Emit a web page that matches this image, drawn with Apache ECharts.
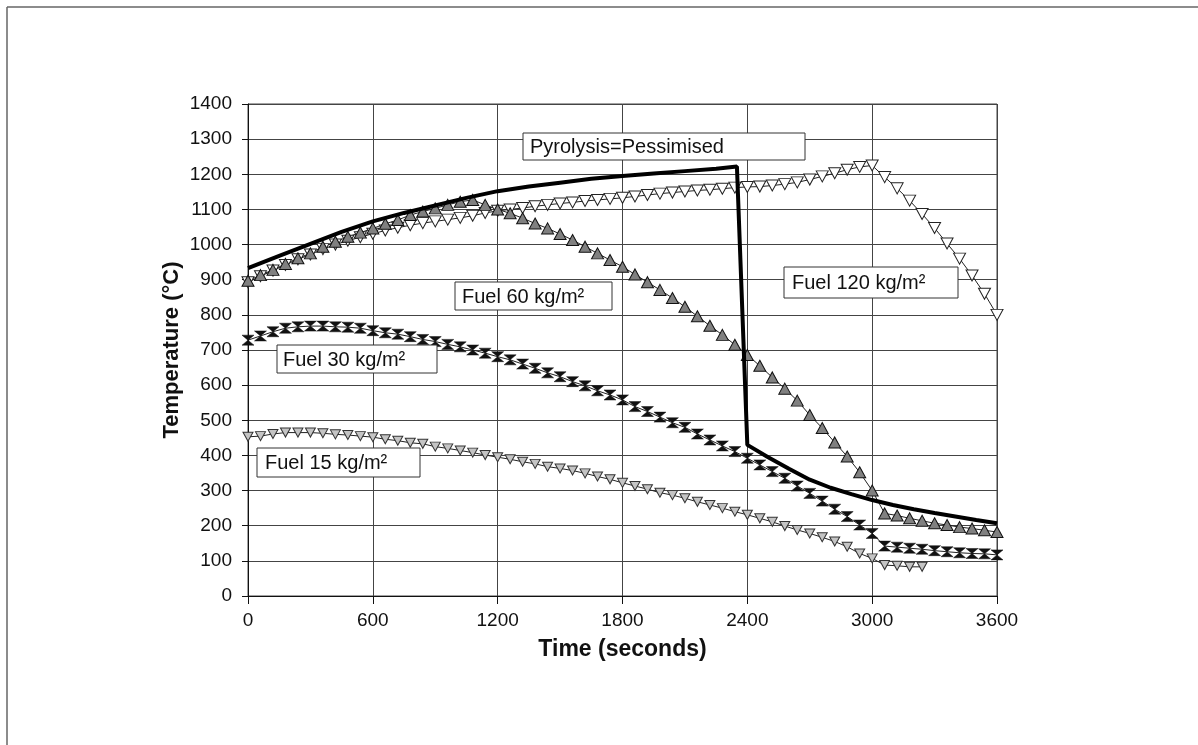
<!DOCTYPE html>
<html>
<head>
<meta charset="utf-8">
<script src="https://cdn.jsdelivr.net/npm/echarts@6/dist/echarts.min.js"></script>
<style>
html,body{margin:0;padding:0;background:#fff;}
#chart{width:1198px;height:745px;}
</style>
</head>
<body>
<div id="chart"></div>
<script>
// ---- Data ----
const times = [0,60,120,180,240,300,360,420,480,540,600,660,720,780,840,900,960,1020,1080,1140,
  1200,1260,1320,1380,1440,1500,1560,1620,1680,1740,1800,1860,1920,1980,2040,2100,2160,2220,2280,2340,
  2400,2460,2520,2580,2640,2700,2760,2820,2880,2940,3000,3060,3120,3180,3240,3300,3360,3420,3480,3540,3600];

const fuel15 = [453,455,461,465,465,465,463,460,458,455,452,446,442,436,433,425,420,414,408,401,
  395,389,382,376,368,363,357,349,340,332,322,313,304,294,287,278,268,259,250,240,
  231,221,211,199,188,178,167,155,140,121,107,88,86,83,83];

const fuel30 = [728,740,752,762,766,768,768,766,765,762,755,749,745,738,730,724,716,709,700,691,
  681,672,660,648,635,624,610,598,584,572,558,539,525,509,493,480,461,444,427,411,
  392,373,354,335,313,292,270,247,226,202,178,142,139,136,133,129,126,123,121,120,117];

const fuel60 = [897,913,928,945,961,975,994,1008,1022,1034,1046,1059,1070,1084,1094,1103,1113,1122,1127,1113,
  1100,1089,1075,1060,1046,1030,1013,994,975,956,937,915,893,871,848,823,796,769,743,715,
  686,655,622,590,556,515,478,437,397,352,300,235,229,221,214,207,202,196,192,187,182];

const fuel120 = [893,910,926,942,958,972,987,1000,1011,1021,1031,1040,1048,1055,1061,1066,1071,1076,1082,1090,
  1096,1100,1104,1109,1113,1117,1120,1124,1127,1130,1133,1137,1141,1145,1148,1151,1154,1156,1159,1162,
  1164,1165,1168,1172,1177,1185,1194,1203,1213,1221,1225,1192,1160,1125,1087,1047,1003,960,912,860,800];

const pyroTimes = [0,150,300,450,600,750,900,1050,1200,1350,1500,1650,1800,1950,2100,2250,2350,
  2400,2500,2600,2700,2800,2900,3000,3100,3200,3300,3400,3500,3600];
const pyroTemps = [933,968,1002,1036,1066,1090,1111,1133,1152,1165,1176,1187,1195,1202,1209,1216,1222,
  430,395,362,331,308,290,273,259,247,236,226,216,207];

const xTicks = [0,600,1200,1800,2400,3000,3600];
const yTicks = [0,100,200,300,400,500,600,700,800,900,1000,1100,1200,1300,1400];

const seriesNames = ['Fuel 15 kg/m²','Fuel 30 kg/m²','Fuel 60 kg/m²','Fuel 120 kg/m²','Pyrolysis=Pessimised'];

function pairs(xs, ys){ return ys.map((v,i)=>[xs[i], v]); }

const FONT = "'Liberation Sans', Arial, sans-serif";
const chart = echarts.init(document.getElementById('chart'), null, {renderer:'canvas'});

const hourglass = 'path://M0,0L10,0L5,5L10,10L0,10L5,5Z';

function labelBox(text, x, y, w, h, tx){
  return {
    type:'group', z:100,
    children:[
      {type:'rect', z:100, shape:{x:x, y:y, width:w, height:h}, style:{fill:'#fff', stroke:'#333', lineWidth:1}},
      {type:'text', z:101, x:tx, y:y+h/2+1, style:{text:text, fill:'#111', font:'20px '+FONT, verticalAlign:'middle', align:'left'}}
    ]
  };
}

const option = {
  animation:false,
  backgroundColor:'#fff',
  textStyle:{fontFamily:FONT},
  grid:{left:248, top:104, right:201, bottom:149, show:true, borderColor:'#444', borderWidth:1, backgroundColor:'transparent'},
  xAxis:{
    type:'value', min:xTicks[0], max:xTicks[xTicks.length-1], interval:600,
    name:'Time (seconds)', nameLocation:'middle', nameGap:42,
    nameTextStyle:{fontSize:23, fontWeight:'bold', color:'#111', fontFamily:FONT},
    axisLine:{show:true, lineStyle:{color:'#111', width:1}},
    axisTick:{show:true, length:8, lineStyle:{color:'#111'}},
    axisLabel:{fontSize:19, color:'#111', margin:15, fontFamily:FONT, formatter:(v)=>String(v)},
    splitLine:{show:true, lineStyle:{color:'#444', width:1}}
  },
  yAxis:{
    type:'value', min:yTicks[0], max:yTicks[yTicks.length-1], interval:100,
    name:'Temperature (°C)', nameLocation:'middle', nameGap:65, nameRotate:90, nameMoveOverlap:false,
    nameTextStyle:{fontSize:22, fontWeight:'bold', color:'#111', fontFamily:FONT},
    axisLine:{show:true, lineStyle:{color:'#111', width:1}},
    axisTick:{show:true, length:6, lineStyle:{color:'#111'}},
    axisLabel:{fontSize:19, color:'#111', margin:16, fontFamily:FONT, formatter:(v)=>String(v)},
    splitLine:{show:true, lineStyle:{color:'#444', width:1}}
  },
  series:[
    {
      name:seriesNames[0], type:'line', data:pairs(times, fuel15),
      symbol:'triangle', symbolRotate:180, symbolSize:[10,9], showSymbol:true,
      lineStyle:{color:'#222', width:1},
      itemStyle:{color:'#c4c4c4', borderColor:'#333', borderWidth:1}
    },
    {
      name:seriesNames[1], type:'line', data:pairs(times, fuel30),
      symbol:hourglass, symbolSize:[12,10], showSymbol:true,
      lineStyle:{color:'#222', width:1},
      itemStyle:{color:'#111', borderColor:'#111', borderWidth:0.5}
    },
    {
      name:seriesNames[3], type:'line', data:pairs(times, fuel120),
      symbol:'triangle', symbolRotate:180, symbolSize:[12,11], showSymbol:true,
      lineStyle:{color:'#222', width:1},
      itemStyle:{color:'#fff', borderColor:'#222', borderWidth:1}
    },
    {
      name:seriesNames[2], type:'line', data:pairs(times, fuel60),
      symbol:'triangle', symbolSize:[12,11], showSymbol:true,
      lineStyle:{color:'#222', width:1},
      itemStyle:{color:'#808080', borderColor:'#111', borderWidth:1}
    },
    {
      name:seriesNames[4], type:'line', data:pairs(pyroTimes, pyroTemps),
      symbol:'none', smooth:false,
      lineStyle:{color:'#000', width:4}, z:5
    }
  ],
  graphic:[
    {type:'line', shape:{x1:7, y1:7, x2:1198, y2:7}, style:{stroke:'#666', lineWidth:1.5}},
    {type:'line', shape:{x1:7, y1:7, x2:7, y2:745}, style:{stroke:'#666', lineWidth:1.5}},
    labelBox(seriesNames[4], 523, 133, 282, 27, 530),
    labelBox(seriesNames[2], 455, 282, 157, 28, 462),
    labelBox(seriesNames[3], 784, 267, 174, 31, 792),
    labelBox(seriesNames[1], 277, 345, 160, 28, 283),
    labelBox(seriesNames[0], 257, 448, 163, 29, 265)
  ]
};
chart.setOption(option);
</script>
</body>
</html>
